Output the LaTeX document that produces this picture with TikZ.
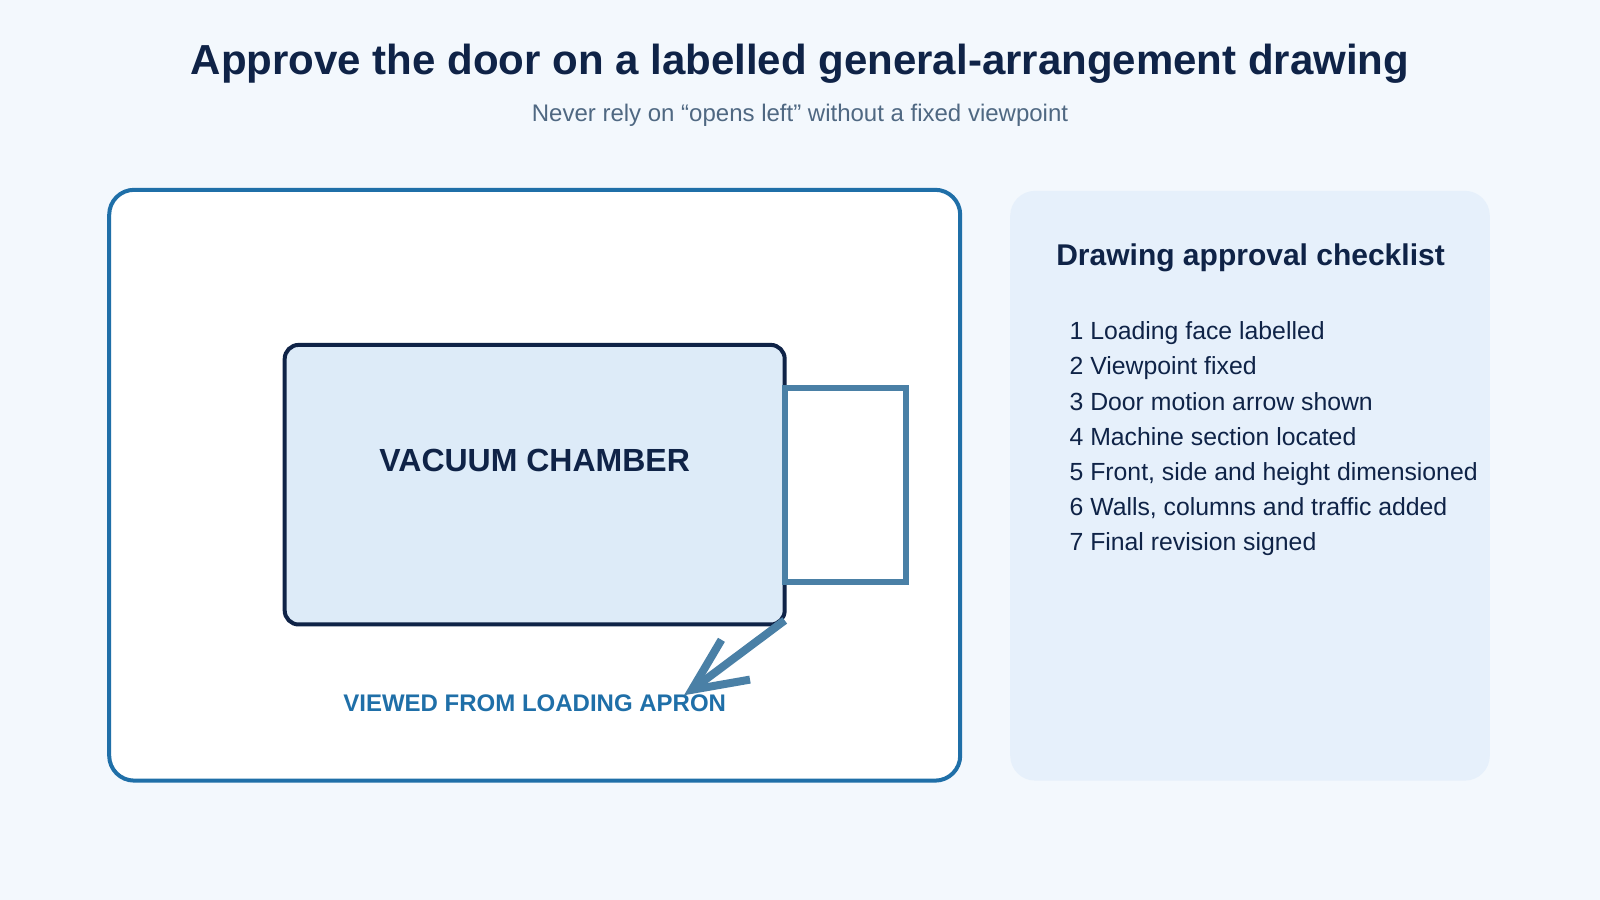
\documentclass[tikz,border=0pt]{standalone}
\usepackage{fontspec}
\setmainfont{Liberation Sans}
\definecolor{navy}{HTML}{0F2347}
\definecolor{sub}{HTML}{4F6882}
\definecolor{pblue}{HTML}{1F6FA8}
\definecolor{door}{HTML}{4A80A6}
\definecolor{chfill}{HTML}{DDEBF8}
\definecolor{rpanel}{HTML}{E6F0FB}
\definecolor{bg}{HTML}{F3F8FD}
\begin{document}
\begin{tikzpicture}[x=1.0204pt,y=-1.0204pt,
  item/.style={anchor=base west,text=navy,font=\fontsize{24.8}{28}\selectfont,inner sep=0},
  every node/.append style={inner sep=0}]
\useasboundingbox (0,0) rectangle (1568,882);
\fill[bg] (0,0) rectangle (1568,882);
\node[text=navy,font=\fontsize{42}{48}\bfseries\selectfont] (title) at (784,62) {Approve the door on a labelled general-arrangement drawing};
\node[text=sub,font=\fontsize{24}{28}\selectfont] (subtitle) at (784,113) {Never rely on “opens left” without a fixed viewpoint};
\draw[pblue,line width=4,fill=white,rounded corners=25] (107,186) rectangle (941,765);
\node[draw=navy,line width=4,fill=chfill,rounded corners=14,minimum width=490*1.0204pt,minimum height=274*1.0204pt] (chamber) at (524,475) {};
\node[text=navy,font=\fontsize{32}{36}\bfseries\selectfont] (chlabel) at (524,451) {VACUUM CHAMBER};
\node[draw=door,line width=6,fill=white,minimum width=119*1.0204pt,minimum height=190*1.0204pt] (door) at (828.5,475) {};
\node[text=pblue,font=\fontsize{24}{28}\bfseries\selectfont] (view) at (524,689) {VIEWED FROM LOADING APRON};
\coordinate (a1) at (769,608);
\coordinate (a2) at (678,676);
\draw[door,line width=8] (a1) -- (a2);
\draw[door,line width=8] (707,627) -- (a2) -- (735,666);
\fill[rpanel,rounded corners=25] (990,187) rectangle (1460,765);
\node[anchor=base west,text=navy,font=\fontsize{30}{34}\bfseries\selectfont] (ctitle) at (1035,260) {Drawing approval checklist};
\node[item] (i1) at (1048,333) {1 Loading face labelled};
\node[item] (i2) at (1048,367.4) {2 Viewpoint fixed};
\node[item] (i3) at (1048,401.8) {3 Door motion arrow shown};
\node[item] (i4) at (1048,436.2) {4 Machine section located};
\node[item] (i5) at (1048,470.6) {5 Front, side and height dimensioned};
\node[item] (i6) at (1048,505) {6 Walls, columns and traffic added};
\node[item] (i7) at (1048,539.4) {7 Final revision signed};
\end{tikzpicture}
\end{document}
